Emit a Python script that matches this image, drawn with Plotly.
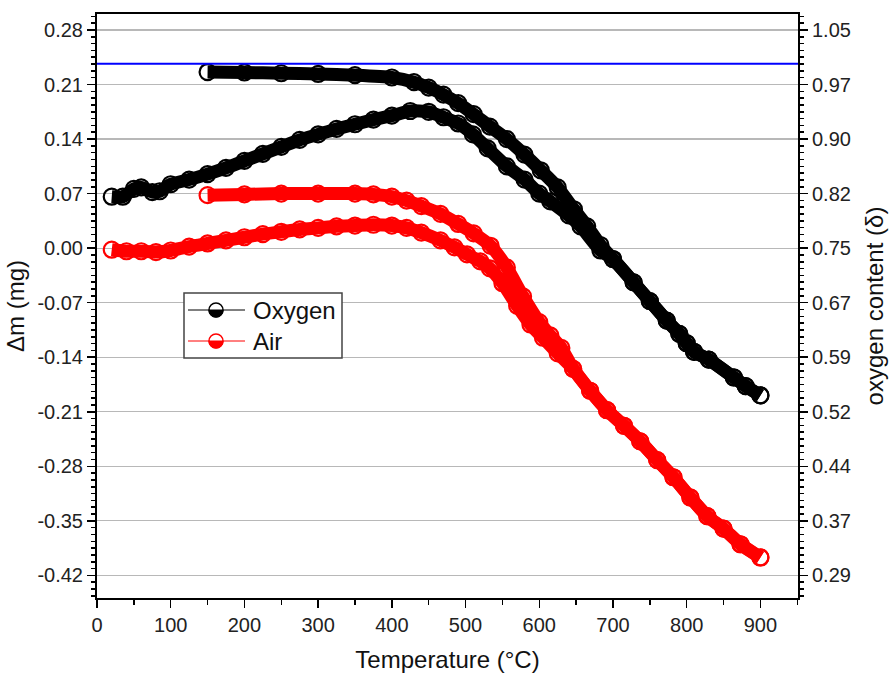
import plotly.graph_objects as go
import numpy as np

# ---------------- data ----------------
# Oxygen atmosphere: mass change (mg), left axis
oxy_dm_T = [20, 35, 50, 60, 75, 85, 100, 125, 150, 175, 200, 225, 250, 275, 300, 325,
            350, 375, 400, 425, 450, 470, 490, 510, 530, 556, 580, 600, 615, 640, 656,
            683, 700, 728, 750, 773, 790, 800, 810, 830, 864, 880, 900]
oxy_dm = [0.066, 0.066, 0.076, 0.078, 0.072, 0.073, 0.082, 0.088, 0.095, 0.103, 0.112,
          0.121, 0.130, 0.139, 0.146, 0.153, 0.159, 0.165, 0.170, 0.176, 0.175, 0.168,
          0.160, 0.146, 0.128, 0.105, 0.088, 0.070, 0.060, 0.042, 0.028, -0.003, -0.014,
          -0.044, -0.068, -0.093, -0.110, -0.122, -0.133, -0.143, -0.166, -0.177, -0.189]

# Oxygen atmosphere: oxygen content (delta), right axis
oxy_delta_T = [150, 200, 250, 300, 350, 400, 430, 450, 470, 490, 511, 533, 556, 580, 602,
               625, 647, 665, 683, 700, 728, 750, 773, 790, 800, 810, 830, 864, 880, 900]
oxy_delta = [0.9914, 0.9908, 0.9897, 0.9887, 0.9870, 0.9838, 0.9773, 0.9697, 0.9599,
             0.9480, 0.9327, 0.9154, 0.8980, 0.8763, 0.8545, 0.8306, 0.8002, 0.7764,
             0.7504, 0.7308, 0.6983, 0.6722, 0.6450, 0.6266, 0.6135, 0.6016, 0.5907,
             0.5658, 0.5538, 0.5408]

# Air atmosphere: mass change (mg), left axis
air_dm_T = [20, 40, 60, 80, 100, 125, 150, 175, 200, 225, 250, 275, 300, 325, 350, 375,
            400, 420, 440, 466, 485, 502, 520, 533, 550, 570, 588, 605, 625, 646, 669,
            692, 715, 737, 760, 782, 805, 828, 850, 873, 900]
air_dm = [-0.002, -0.004, -0.004, -0.005, -0.003, 0.002, 0.006, 0.010, 0.014, 0.018,
          0.021, 0.024, 0.026, 0.028, 0.029, 0.030, 0.029, 0.026, 0.020, 0.010, 0.001,
          -0.008, -0.017, -0.026, -0.045, -0.074, -0.098, -0.115, -0.135, -0.155, -0.183,
          -0.208, -0.228, -0.248, -0.272, -0.294, -0.320, -0.344, -0.360, -0.380, -0.397]

# Air atmosphere: oxygen content (delta), right axis
air_delta_T = [150, 200, 250, 300, 350, 375, 400, 420, 440, 466, 490, 511, 534, 556, 578,
               600, 615, 630, 646, 669, 692, 715, 737, 760, 782, 805, 828, 850, 873, 900]
air_delta = [0.8198, 0.8209, 0.8220, 0.8220, 0.8220, 0.8209, 0.8177, 0.8122, 0.8046,
             0.7938, 0.7797, 0.7666, 0.7493, 0.7189, 0.6787, 0.6429, 0.6244, 0.6070,
             0.5777, 0.5473, 0.5202, 0.4985, 0.4767, 0.4507, 0.4268, 0.3986, 0.3725,
             0.3551, 0.3334, 0.3150]

# reference line: stoichiometric oxygen content
delta_ref = 1.003

# axis ticks
x_ticks = [0, 100, 200, 300, 400, 500, 600, 700, 800, 900]
dm_ticks = [-0.42, -0.35, -0.28, -0.21, -0.14, -0.07, 0.00, 0.07, 0.14, 0.21, 0.28]
delta_ticks = [0.29, 0.366, 0.442, 0.518, 0.594, 0.67, 0.746, 0.822, 0.898, 0.974, 1.05]

series_names = ["Oxygen", "Air"]
series_colors = ["#000000", "#ff0000"]

# ---------------- figure ----------------
FONT = "Liberation Sans, Arial, sans-serif"
dm_range = [-0.449, 0.3005]
k = (delta_ticks[-1] - delta_ticks[0]) / (dm_ticks[-1] - dm_ticks[0])
delta_range = [delta_ticks[0] + (dm_range[0] - dm_ticks[0]) * k,
               delta_ticks[0] + (dm_range[1] - dm_ticks[0]) * k]

fig = go.Figure()


def add_curve(xs, ys, color, yaxis):
    fig.add_trace(go.Scatter(
        x=xs, y=ys, yaxis=yaxis, mode="lines+markers", showlegend=False,
        line=dict(color=color, width=13, shape="spline", smoothing=0.6),
        marker=dict(symbol="circle-open", size=16, color=color,
                    line=dict(color=color, width=2.2)),
        hoverinfo="skip"))


add_curve(air_dm_T, air_dm, series_colors[1], "y")
add_curve(air_delta_T, air_delta, series_colors[1], "y2")
add_curve(oxy_dm_T, oxy_dm, series_colors[0], "y")
add_curve(oxy_delta_T, oxy_delta, series_colors[0], "y2")

axis_common = dict(
    showline=True, linecolor="black", linewidth=2, ticks="outside",
    tickwidth=1.5, ticklen=8, tickcolor="black", zeroline=False,
    tickfont=dict(family=FONT, size=20, color="#222"),
)

fig.update_layout(
    width=889, height=673,
    margin=dict(l=97, r=91, t=14, b=75),
    paper_bgcolor="white", plot_bgcolor="white",
    font=dict(family=FONT, color="#111"),
    showlegend=False,
    xaxis=dict(
        **axis_common, range=[0, 951], tickmode="array", tickvals=x_ticks,
        ticktext=[str(v) for v in x_ticks], mirror=True, showgrid=False,
        minor=dict(dtick=50, tick0=0, ticks="outside", ticklen=5, tickwidth=1.5,
                   tickcolor="black"),
        title=dict(text="Temperature (°C)", font=dict(family=FONT, size=24, color="#111"),
                   standoff=18),
        automargin=False,
    ),
    yaxis=dict(
        **axis_common, range=dm_range, tickmode="array", tickvals=dm_ticks,
        ticktext=[f"{v:.2f}" for v in dm_ticks], showgrid=True, gridcolor="#b8b8b8",
        gridwidth=1.2,
        minor=dict(dtick=0.07 / 8, tick0=0, ticks="outside", ticklen=4, tickwidth=1.5,
                   tickcolor="black", showgrid=False),
        title=dict(text="Δm (mg)", font=dict(family=FONT, size=24, color="#111"),
                   standoff=6),
        automargin=False,
    ),
    yaxis2=dict(
        **axis_common, overlaying="y", side="right", range=delta_range,
        tickmode="array", tickvals=delta_ticks,
        ticktext=[f"{v:.2f}" for v in delta_ticks], showgrid=False,
        minor=dict(dtick=0.076 / 8, tick0=0.29, ticks="outside", ticklen=4, tickwidth=1.5,
                   tickcolor="black", showgrid=False),
        title=dict(text="oxygen content (δ)", font=dict(family=FONT, size=24, color="#111"),
                   standoff=16),
        automargin=False,
    ),
)

# blue reference line
fig.add_shape(type="line", xref="paper", x0=0, x1=1, yref="y2", y0=delta_ref, y1=delta_ref,
              line=dict(color="#0000ff", width=2), layer="above")

# ---------------- manual legend (half-filled circle symbols) ----------------
PW, PH = 889 - 97 - 91, 673 - 14 - 75


def px_x(p):
    return (p - 97) / PW


def px_y(p):
    return (673 - 75 - p) / PH


fig.add_shape(type="rect", xref="paper", yref="paper",
              x0=px_x(184), x1=px_x(342), y0=px_y(358), y1=px_y(293),
              line=dict(color="#444", width=1.5), fillcolor="white", layer="above")

row_y = [310, 341]
r = 7
for name, color, ry in zip(series_names, series_colors, row_y):
    yy = px_y(ry)
    fig.add_shape(type="line", xref="paper", yref="paper", x0=px_x(188), x1=px_x(245),
                  y0=yy, y1=yy, line=dict(color=color, width=1), layer="above")
    fig.add_shape(type="circle", xref="paper", yref="paper", xsizemode="pixel",
                  ysizemode="pixel", xanchor=px_x(216), yanchor=yy,
                  x0=-r, x1=r, y0=-r, y1=r, fillcolor="white",
                  line=dict(color=color, width=1.5), layer="above")
    c = 4 * r / 3
    fig.add_shape(type="path", xref="paper", yref="paper", xsizemode="pixel",
                  ysizemode="pixel", xanchor=px_x(216), yanchor=yy,
                  path=f"M {-r},0 C {-r},{-c} {r},{-c} {r},0 Z",
                  fillcolor=color, line=dict(color=color, width=1), layer="above")
    fig.add_annotation(xref="paper", yref="paper", x=px_x(251), y=yy, text=name,
                       showarrow=False, xanchor="left", yanchor="middle",
                       font=dict(family=FONT, size=24, color="#111"))

fig.write_html("out.html", config={"displayModeBar": False, "staticPlot": True},
               post_script="document.body.style.margin='0';"
               "document.body.style.overflow='hidden';")
